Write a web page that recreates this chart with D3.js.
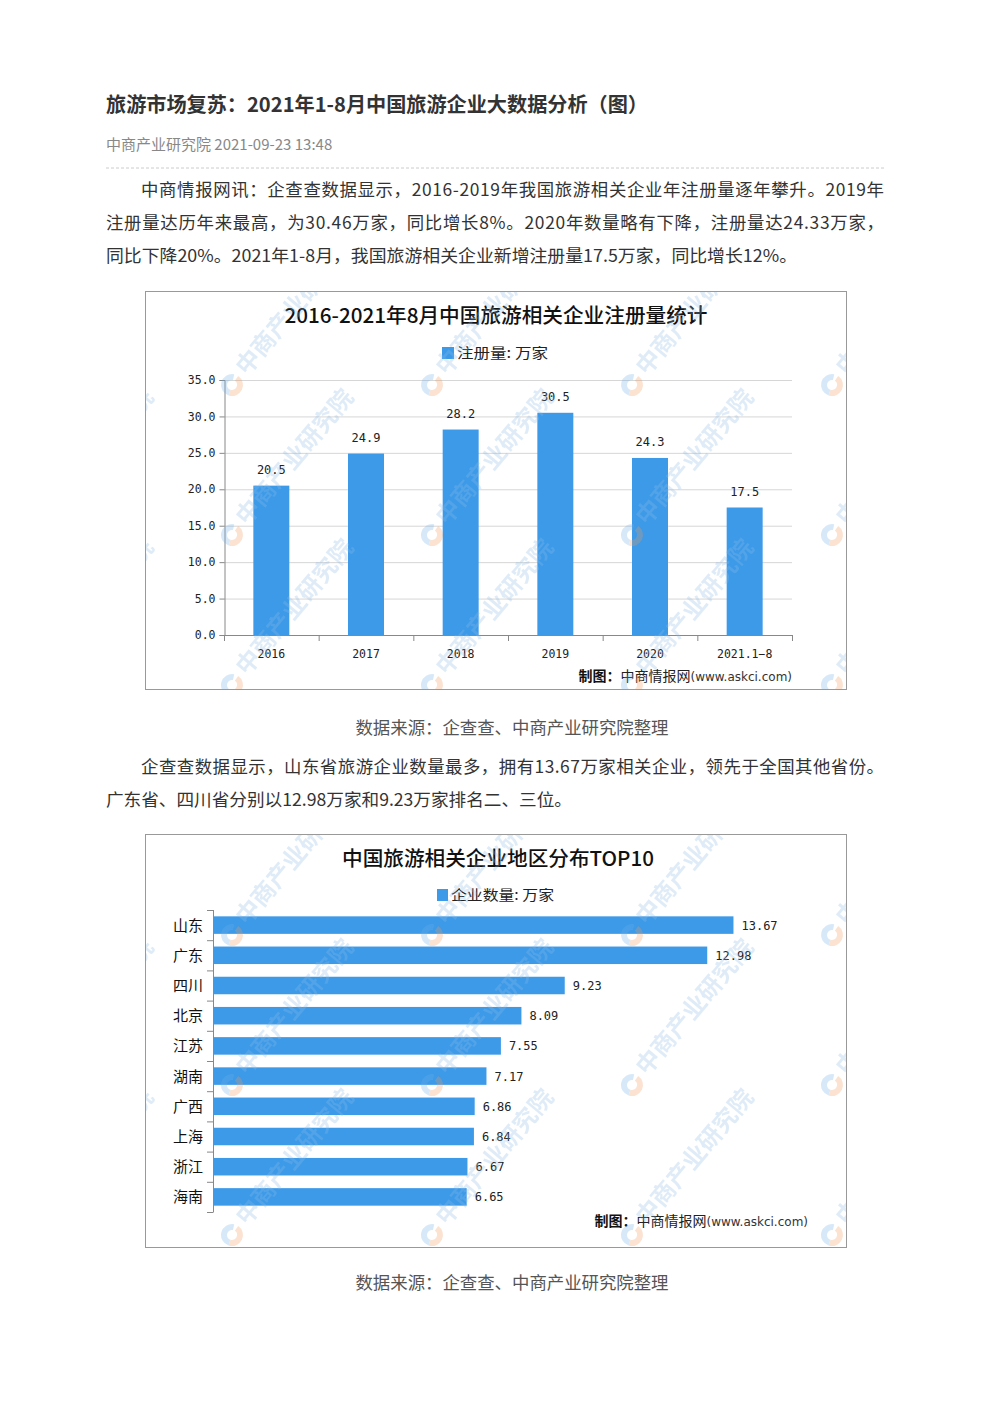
<!DOCTYPE html>
<html><head><meta charset="utf-8">
<script src="https://cdn.jsdelivr.net/npm/d3@7"></script>
<style>
html,body{margin:0;padding:0;background:#fff;}
svg{display:block;}
</style></head>
<body>
<svg id="page" width="992" height="1403"></svg>
<script>
// ---------- data ----------
const years = ["2016","2017","2018","2019","2020","2021.1-8"];
const registrations = [20.5, 24.9, 28.2, 30.5, 24.3, 17.5];
const yTicks1 = [0,5,10,15,20,25,30,35];

const provinces = ["山东","广东","四川","北京","江苏","湖南","广西","上海","浙江","海南"];
const companies = [13.67, 12.98, 9.23, 8.09, 7.55, 7.17, 6.86, 6.84, 6.67, 6.65];

const pageTitle = "旅游市场复苏：2021年1-8月中国旅游企业大数据分析（图）";
const meta = "中商产业研究院 2021-09-23 13:48";
const para1 = [
  "中商情报网讯：企查查数据显示，2016-2019年我国旅游相关企业年注册量逐年攀升。2019年",
  "注册量达历年来最高，为30.46万家，同比增长8%。2020年数量略有下降，注册量达24.33万家，",
  "同比下降20%。2021年1-8月，我国旅游相关企业新增注册量17.5万家，同比增长12%。"
];
const para2 = [
  "企查查数据显示，山东省旅游企业数量最多，拥有13.67万家相关企业，领先于全国其他省份。",
  "广东省、四川省分别以12.98万家和9.23万家排名二、三位。"
];
const caption = "数据来源：企查查、中商产业研究院整理";
const chart1Title = "2016-2021年8月中国旅游相关企业注册量统计";
const chart1Legend = "注册量: 万家";
const chart2Title = "中国旅游相关企业地区分布TOP10";
const chart2Legend = "企业数量: 万家";

// ---------- styles ----------
const CJK = "'Noto Sans CJK SC','Noto Sans',sans-serif";
const MONO = "'DejaVu Sans Mono','Liberation Mono',monospace";
const BAR = "#3c9ae8";

const svg = d3.select("#page");

// ---------- page text ----------
svg.append("text").attr("x",106).attr("y",112).attr("font-family",CJK).attr("font-size",20)
  .attr("font-weight",700).attr("fill","#333").attr("textLength",542).attr("lengthAdjust","spacingAndGlyphs").text(pageTitle);
svg.append("text").attr("x",106).attr("y",150).attr("font-family",CJK).attr("font-size",15)
  .attr("fill","#888").text(meta);
svg.append("line").attr("x1",106).attr("x2",885).attr("y1",168).attr("y2",168)
  .attr("stroke","#ccc").attr("stroke-dasharray","3,2");

function paragraph(lines, y0, lastWidth){
  lines.forEach((t,i)=>{
    const x = i===0 ? 141 : 106;
    const tx = svg.append("text").attr("x",x).attr("y",y0+i*33).attr("font-family",CJK)
      .attr("font-size",17.4).attr("fill","#333").text(t);
    if(i<lines.length-1) tx.attr("textLength",884-x).attr("lengthAdjust","spacing");
    else if(lastWidth) tx.attr("textLength",lastWidth).attr("lengthAdjust","spacingAndGlyphs");
  });
}
paragraph(para1,196,691);
paragraph(para2,773,466);

svg.append("text").attr("x",512).attr("y",734).attr("text-anchor","middle").attr("font-family",CJK)
  .attr("font-size",17.4).attr("fill","#555").text(caption);
svg.append("text").attr("x",512).attr("y",1289).attr("text-anchor","middle").attr("font-family",CJK)
  .attr("font-size",17.4).attr("fill","#555").text(caption);

// ---------- watermark helper ----------
function watermarks(g, box, rows){
  const clipId = "clip"+box.y;
  svg.append("clipPath").attr("id",clipId).append("rect")
    .attr("x",box.x).attr("y",box.y).attr("width",box.w).attr("height",box.h);
  const wm = g.append("g").attr("clip-path",`url(#${clipId})`).attr("opacity",0.28);
  rows.forEach(ry=>{
    [32,232,432,632,832].forEach(cx=>{
      const w = wm.append("g").attr("transform",`translate(${cx},${ry})`);
      w.append("path").attr("d",d3.arc()({innerRadius:5,outerRadius:11,startAngle:0.6,endAngle:Math.PI*1.1}))
        .attr("fill","#f29a5c");
      w.append("path").attr("d",d3.arc()({innerRadius:5,outerRadius:11,startAngle:Math.PI*1.1,endAngle:Math.PI*2+0.2}))
        .attr("fill","#6fb0e8");
      w.append("text").attr("transform","rotate(-50) translate(16,6)").attr("font-family",CJK)
        .attr("font-size",24).attr("font-weight",700).attr("fill","#8cbbe6").text("中商产业研究院");
    });
  });
}

// ---------- chart 1 ----------
const c1 = svg.append("g");
c1.append("rect").attr("x",145.5).attr("y",291.5).attr("width",701).attr("height",398)
  .attr("fill","#fff").attr("stroke","#999");
c1.append("text").attr("x",496).attr("y",323).attr("text-anchor","middle").attr("font-family",CJK)
  .attr("font-size",20).attr("font-weight",500).attr("fill","#111").attr("textLength",423)
  .attr("lengthAdjust","spacingAndGlyphs").text(chart1Title);
c1.append("rect").attr("x",442).attr("y",347).attr("width",12).attr("height",12).attr("fill",BAR);
c1.append("text").attr("x",457).attr("y",358).attr("font-family",CJK).attr("font-size",14)
  .attr("fill","#222").attr("textLength",91).attr("lengthAdjust","spacingAndGlyphs").text(chart1Legend);

const x1 = d3.scaleBand().domain(years).range([224,792]).paddingInner(0.62).paddingOuter(0.31);
const y1 = d3.scaleLinear().domain([0,35]).range([635,380]);

c1.append("g").selectAll("line").data(yTicks1.filter(d=>d>0)).join("line")
  .attr("x1",224).attr("x2",792).attr("y1",d=>y1(d)+0.5).attr("y2",d=>y1(d)+0.5)
  .attr("stroke","#d6d6d6");

const yAxis1 = c1.append("g").attr("transform","translate(224.5,0)")
  .call(d3.axisLeft(y1).tickValues(yTicks1).tickFormat(d3.format(".1f")).tickSize(5).tickPadding(4));
yAxis1.select(".domain").attr("stroke","#888");
yAxis1.selectAll(".tick line").attr("stroke","#888");
yAxis1.selectAll("text").attr("font-family",MONO).attr("font-size",11.5).attr("fill","#222");

c1.append("g").selectAll("rect").data(years).join("rect")
  .attr("x",d=>x1(d)).attr("width",x1.bandwidth())
  .attr("y",(d,i)=>y1(registrations[i])).attr("height",(d,i)=>y1(0)-y1(registrations[i]))
  .attr("fill",BAR);

c1.append("g").selectAll("text").data(years).join("text")
  .attr("x",d=>x1(d)+x1.bandwidth()/2).attr("y",(d,i)=>y1(registrations[i])-12)
  .attr("text-anchor","middle").attr("font-family",MONO).attr("font-size",12).attr("fill","#222")
  .text((d,i)=>registrations[i].toFixed(1));

// x axis
const step1 = x1.step();
c1.append("line").attr("x1",224).attr("x2",792).attr("y1",635.5).attr("y2",635.5).attr("stroke","#888");
c1.append("g").selectAll("line").data(d3.range(years.length+1)).join("line")
  .attr("x1",i=>224.5+i*step1).attr("x2",i=>224.5+i*step1).attr("y1",635).attr("y2",641).attr("stroke","#888");
c1.append("g").selectAll("text").data(years).join("text")
  .attr("x",d=>x1(d)+x1.bandwidth()/2).attr("y",658).attr("text-anchor","middle")
  .attr("font-family",MONO).attr("font-size",11.5).attr("fill","#222").text(d=>d.replace("-","−"));

function credit(g, xEnd, y){
  const t = g.append("text").attr("x",xEnd).attr("y",y).attr("text-anchor","end").attr("font-family",CJK);
  t.append("tspan").attr("font-size",14).attr("font-weight",700).attr("fill","#111").text("制图：");
  t.append("tspan").attr("font-size",14).attr("fill","#222").text("中商情报网");
  t.append("tspan").attr("font-size",12).attr("font-family","'DejaVu Sans',sans-serif").attr("fill","#333").text("(www.askci.com)");
}
credit(c1,792,681);
watermarks(c1,{x:146,y:292,w:700,h:397},[385,535,685]);

// ---------- chart 2 ----------
const c2 = svg.append("g");
c2.append("rect").attr("x",145.5).attr("y",834.5).attr("width",701).attr("height",413)
  .attr("fill","#fff").attr("stroke","#999");
c2.append("text").attr("x",498).attr("y",866).attr("text-anchor","middle").attr("font-family",CJK)
  .attr("font-size",20).attr("font-weight",500).attr("fill","#111").attr("textLength",312)
  .attr("lengthAdjust","spacingAndGlyphs").text(chart2Title);
c2.append("rect").attr("x",437).attr("y",889).attr("width",11).attr("height",12).attr("fill",BAR);
c2.append("text").attr("x",451).attr("y",900).attr("font-family",CJK).attr("font-size",14)
  .attr("fill","#222").attr("textLength",103).attr("lengthAdjust","spacingAndGlyphs").text(chart2Legend);

const y2 = d3.scaleBand().domain(provinces).range([910,1212]).paddingInner(0.42).paddingOuter(0.21);
const x2 = d3.scaleLinear().domain([0,15]).range([214,784]);

c2.append("g").selectAll("rect").data(provinces).join("rect")
  .attr("x",x2(0)).attr("y",d=>y2(d)).attr("height",y2.bandwidth())
  .attr("width",(d,i)=>x2(companies[i])-x2(0)).attr("fill",BAR);

c2.append("g").selectAll("text").data(provinces).join("text")
  .attr("x",(d,i)=>x2(companies[i])+8).attr("y",d=>y2(d)+y2.bandwidth()/2+4.5)
  .attr("font-family",MONO).attr("font-size",12).attr("fill","#222")
  .text((d,i)=>companies[i].toFixed(2));

const step2 = y2.step();
c2.append("line").attr("x1",213.5).attr("x2",213.5).attr("y1",910).attr("y2",1212).attr("stroke","#888");
c2.append("g").selectAll("line").data(d3.range(provinces.length+1)).join("line")
  .attr("x1",207).attr("x2",213.5).attr("y1",i=>910.5+i*step2).attr("y2",i=>910.5+i*step2).attr("stroke","#888");
c2.append("g").selectAll("text").data(provinces).join("text")
  .attr("x",203).attr("y",d=>y2(d)+y2.bandwidth()/2+5.5).attr("text-anchor","end")
  .attr("font-family",CJK).attr("font-size",15).attr("fill","#111").text(d=>d);

credit(c2,808,1226);
watermarks(c2,{x:146,y:835,w:700,h:412},[935,1085,1235]);
</script>
</body></html>
